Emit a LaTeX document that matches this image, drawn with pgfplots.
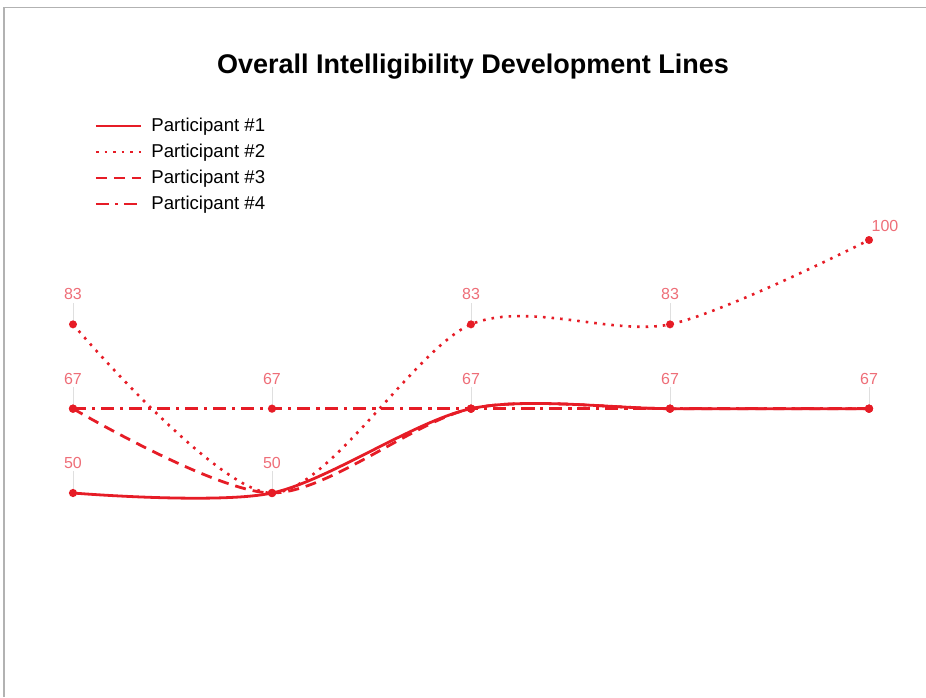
\documentclass[border=0pt]{standalone}
\usepackage{fontspec}
\setmainfont{Liberation Sans}
\usepackage{pgfplots}
\pgfplotsset{compat=1.18}
\definecolor{lred}{RGB}{230,28,38}
\definecolor{lblred}{RGB}{238,110,120}
\begin{document}
\begin{tikzpicture}
\useasboundingbox (0,0) rectangle (463pt,348.5pt);
\draw[gray!60, line width=0.8pt] (2pt,0) -- (2pt,344.75pt) -- (463pt,344.75pt);
\node[font=\bfseries\fontsize{13.5}{16}\selectfont] at (236.5pt,315pt) {Overall Intelligibility Development Lines};
\begin{axis}[
  at={(36.5pt,76.7pt)}, anchor=south west,
  scale only axis, width=398pt, height=177.1pt,
  xmin=0, xmax=4, ymin=40, ymax=110,
  hide axis, clip=false,
  /pgf/number format/assume math mode=true,
  legend cell align=left,
  legend image code/.code={\draw[#1] (0cm,0cm) -- (0.8cm,0cm); \path (0.88cm,0cm);},
  legend style={at={(axis description cs:0.019,1.226)}, anchor=north west, draw=none, fill=none,
    font=\fontsize{9.3}{11}\selectfont, row sep=0.75pt},
]
% data labels with leader lines
\addplot[draw=none, forget plot,
  nodes near coords, point meta=y,
  nodes near coords style={anchor=center, yshift=15pt, text=lblred, font=\fontsize{8}{9}\selectfont,
    /pgf/number format/fixed, /pgf/number format/precision=0},
  error bars/.cd, y dir=plus, y fixed=4.3, error mark=none,
  error bar style={draw=gray!25, line width=0.4pt, solid}]
  coordinates {(0,83.33) (0,66.67) (0,50) (1,66.67) (1,50) (2,83.33) (2,66.67) (3,83.33) (3,66.67) (4,66.67)};
\addplot[draw=none, forget plot,
  nodes near coords, point meta=y,
  nodes near coords style={anchor=center, yshift=7pt, xshift=8pt, text=lblred, font=\fontsize{8}{9}\selectfont,
    /pgf/number format/fixed, /pgf/number format/precision=0}]
  coordinates {(4,100)};
\addplot[lred, line width=1.4pt, smooth, mark=*, mark size=1.3pt, mark options={solid}]
  coordinates {(0,50) (1,50) (2,66.67) (3,66.67) (4,66.67)};
\addlegendentry{Participant \#1}
\addplot[lred, line width=1.3pt, smooth, dash pattern=on 1.3pt off 3pt, mark=*, mark size=1.3pt, mark options={solid}]
  coordinates {(0,83.33) (1,50) (2,83.33) (3,83.33) (4,100)};
\addlegendentry{Participant \#2}
\addplot[lred, line width=1.4pt, smooth, dash pattern=on 5.5pt off 3.5pt, mark=*, mark size=1.3pt, mark options={solid}]
  coordinates {(0,66.67) (1,50) (2,66.67) (3,66.67) (4,66.67)};
\addlegendentry{Participant \#3}
\addplot[lred, line width=1.4pt, smooth, dash pattern=on 6.5pt off 3pt on 1.5pt off 3pt, mark=*, mark size=1.3pt, mark options={solid}]
  coordinates {(0,66.67) (1,66.67) (2,66.67) (3,66.67) (4,66.67)};
\addlegendentry{Participant \#4}
\end{axis}
\end{tikzpicture}
\end{document}
